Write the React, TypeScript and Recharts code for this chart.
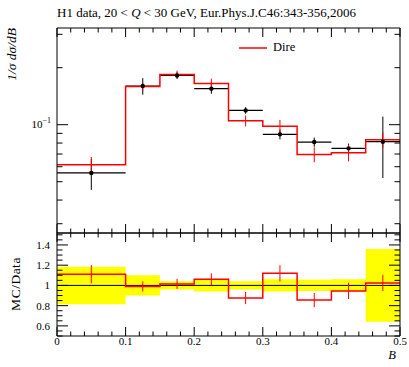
import React from 'react';
import { ComposedChart, Line, Scatter, Area, XAxis, YAxis, ErrorBar, ReferenceLine, Legend } from 'recharts';

// bins in B
const binEdges = [0, 0.1, 0.15, 0.2, 0.25, 0.3, 0.35, 0.4, 0.45, 0.5];
const binCenters = [0.05, 0.125, 0.175, 0.225, 0.275, 0.325, 0.375, 0.425, 0.475];
const binHalfWidths = [0.05, 0.025, 0.025, 0.025, 0.025, 0.025, 0.025, 0.025, 0.025];

// H1 data
const dataValues = [0.0556, 0.16, 0.182, 0.155, 0.119, 0.0889, 0.081, 0.075, 0.0813];
const dataErrors = [0.0103, 0.016, 0.0073, 0.0093, 0.0048, 0.0053, 0.0045, 0.0045, 0.029];

// Dire MC
const mcValues = [0.0615, 0.159, 0.184, 0.165, 0.105, 0.098, 0.0697, 0.0712, 0.0833];
const mcErrors = [0.006, 0.008, 0.009, 0.01, 0.007, 0.008, 0.0063, 0.0072, 0.0077];

// ratio panel
const ratioValues = [1.11, 0.99, 1.015, 1.06, 0.875, 1.12, 0.855, 0.945, 1.025];
const ratioErrors = [0.09, 0.05, 0.05, 0.06, 0.06, 0.08, 0.07, 0.08, 0.08];
const bandHalfWidths = [0.185, 0.1, 0.04, 0.06, 0.04, 0.06, 0.055, 0.06, 0.36];

const xTicks = Array.from({ length: 26 }, (_, i) => Math.round(i * 2) / 100);
const logTicks = [0.03, 0.04, 0.05, 0.06, 0.07, 0.08, 0.09, 0.1, 0.2, 0.3];
const ratioTicks = Array.from({ length: 21 }, (_, i) => Math.round((0.5 + i * 0.05) * 100) / 100);
const xLabels = ['0', '0.1', '0.2', '0.3', '0.4', '0.5'];

const FONT = '"Liberation Serif", serif';
const last = (arr: number[], i: number) => arr[Math.min(i, arr.length - 1)];

const mcStep = binEdges.map((x, i) => ({ x, y: last(mcValues, i) }));
const dataPoints = binCenters.map((x, i) => ({ x, y: dataValues[i], yErr: dataErrors[i], xErr: binHalfWidths[i] }));
const mcPoints = binCenters.map((x, i) => ({ x, y: mcValues[i], yErr: mcErrors[i] }));
const bandStep = binEdges.map((x, i) => ({ x, band: [1 - last(bandHalfWidths, i), 1 + last(bandHalfWidths, i)] }));
const ratioStep = binEdges.map((x, i) => ({ x, y: last(ratioValues, i) }));
const ratioPoints = binCenters.map((x, i) => ({ x, y: ratioValues[i], yErr: ratioErrors[i] }));

const near = (v: number, step: number) => Math.abs(v / step - Math.round(v / step)) < 1e-6;

type Side = 'left' | 'right' | 'top' | 'bottom';

function tick(side: Side, isMajor: (v: number) => boolean, majorLen: number, minorLen: number, label?: (v: number, x: number, y: number) => React.ReactNode) {
  return (props: any) => {
    const { x, y, payload } = props;
    const v = payload.value as number;
    const len = isMajor(v) ? majorLen : minorLen;
    let x2 = x;
    let y2 = y;
    if (side === 'left') x2 = x + len;
    if (side === 'right') x2 = x - len;
    if (side === 'top') y2 = y + len;
    if (side === 'bottom') y2 = y - len;
    return (
      <g>
        <line x1={x} y1={y} x2={x2} y2={y2} stroke="#000" strokeWidth={1} />
        {label ? label(v, x, y) : null}
      </g>
    );
  };
}

const isMajorX = (v: number) => near(v, 0.1);
const isMajorLog = (v: number) => Math.abs(v - 0.1) < 1e-9;
const isMajorRatio = (v: number) => near(v, 0.2) && v > 0.55;

const logLabel = (v: number, x: number, y: number) =>
  isMajorLog(v) ? (
    <text x={x - 6} y={y + 3} textAnchor="end" fontFamily={FONT} fontSize={11} fill="#000">
      10<tspan dy={-5} fontSize={8}>−1</tspan>
    </text>
  ) : null;

const ratioLabel = (v: number, x: number, y: number) =>
  isMajorRatio(v) ? (
    <text x={x - 7} y={y + 4} textAnchor="end" fontFamily={FONT} fontSize={11} fill="#000">
      {String(Math.round(v * 10) / 10)}
    </text>
  ) : null;

const xLabel = (v: number, x: number, y: number) =>
  isMajorX(v) ? (
    <text x={x} y={y + 9} textAnchor="middle" fontFamily={FONT} fontSize={11} fill="#000">
      {xLabels[Math.round(v * 10)]}
    </text>
  ) : null;

const axisCommon = { tickLine: false, tickSize: 0, tickMargin: 0, axisLine: { stroke: '#000' }, interval: 0 as const };

const LegendBox = () => (
  <div style={{ display: 'flex', alignItems: 'center', fontFamily: FONT, fontSize: 12.5, color: '#000' }}>
    <svg width={28} height={6} style={{ marginRight: 6 }}>
      <line x1={0} y1={3} x2={28} y2={3} stroke="#f00" strokeWidth={1.5} />
    </svg>
    <span>Dire</span>
  </div>
);

export default function App() {
  return (
    <div style={{ position: 'absolute', left: 0, top: 0, width: 409, height: 367, background: '#fff' }}>
      <div style={{ position: 'absolute', left: 0, top: 0 }}>
        <ComposedChart width={409} height={234} margin={{ top: 27, right: 8, bottom: 0, left: 56 }}>
          <XAxis dataKey="x" type="number" domain={[0, 0.5]} ticks={xTicks} height={1} {...axisCommon} tick={tick('bottom', isMajorX, 9, 4.5)} />
          <XAxis xAxisId="top" dataKey="x" type="number" orientation="top" domain={[0, 0.5]} ticks={xTicks} height={1} {...axisCommon} tick={tick('top', isMajorX, 9, 4.5)} />
          <YAxis type="number" scale="log" domain={[0.0268, 0.324]} allowDataOverflow ticks={logTicks} width={1} {...axisCommon} tick={tick('left', isMajorLog, 11, 5.5, logLabel)} />
          <YAxis yAxisId="right" orientation="right" type="number" scale="log" domain={[0.0268, 0.324]} allowDataOverflow ticks={logTicks} width={1} {...axisCommon} tick={tick('right', isMajorLog, 11, 5.5)} />
          <Line xAxisId="top" yAxisId="right" data={mcStep} dataKey="y" stroke="none" dot={false} isAnimationActive={false} legendType="none" />
          <Scatter data={dataPoints} dataKey="y" fill="#000" isAnimationActive={false} shape={(p: any) => <circle cx={p.cx} cy={p.cy} r={2.2} fill="#000" />}>
            <ErrorBar dataKey="xErr" direction="x" width={0} stroke="#000" strokeWidth={1.3} />
            <ErrorBar dataKey="yErr" direction="y" width={0} stroke="#000" strokeWidth={1} />
          </Scatter>
          <Line data={mcStep} dataKey="y" type="stepAfter" stroke="#f00" strokeWidth={1.5} dot={false} isAnimationActive={false} />
          <Scatter data={mcPoints} dataKey="y" isAnimationActive={false} shape={() => <g />}>
            <ErrorBar dataKey="yErr" direction="y" width={0} stroke="#f00" strokeWidth={1} />
          </Scatter>
          <Legend content={LegendBox} layout="horizontal" verticalAlign="middle" align="center" wrapperStyle={{ top: 40, left: 239, width: 90 }} />
        </ComposedChart>
      </div>
      <div style={{ position: 'absolute', left: 0, top: 232 }}>
        <ComposedChart width={409} height={134} margin={{ top: 0, right: 8, bottom: 29, left: 56 }}>
          <XAxis dataKey="x" type="number" domain={[0, 0.5]} ticks={xTicks} height={1} {...axisCommon} tick={tick('bottom', isMajorX, 9, 4.5, xLabel)} />
          <XAxis xAxisId="top" dataKey="x" type="number" orientation="top" domain={[0, 0.5]} ticks={xTicks} height={1} {...axisCommon} tick={tick('top', isMajorX, 9, 4.5)} />
          <YAxis type="number" domain={[0.5, 1.518]} allowDataOverflow ticks={ratioTicks} width={1} {...axisCommon} tick={tick('left', isMajorRatio, 11, 5.5, ratioLabel)} />
          <YAxis yAxisId="right" orientation="right" type="number" domain={[0.5, 1.518]} allowDataOverflow ticks={ratioTicks} width={1} {...axisCommon} tick={tick('right', isMajorRatio, 11, 5.5)} />
          <Line xAxisId="top" yAxisId="right" data={ratioStep} dataKey="y" stroke="none" dot={false} isAnimationActive={false} />
          <Area data={bandStep} dataKey="band" type="stepAfter" stroke="none" fill="#ffff00" fillOpacity={1} isAnimationActive={false} />
          <ReferenceLine y={1} stroke="#000" strokeWidth={1} />
          <Line data={ratioStep} dataKey="y" type="stepAfter" stroke="#f00" strokeWidth={1.5} dot={false} isAnimationActive={false} />
          <Scatter data={ratioPoints} dataKey="y" isAnimationActive={false} shape={() => <g />}>
            <ErrorBar dataKey="yErr" direction="y" width={0} stroke="#f00" strokeWidth={1} />
          </Scatter>
        </ComposedChart>
      </div>
      <svg width={409} height={367} style={{ position: 'absolute', left: 0, top: 0, pointerEvents: 'none' }}>
        <text x={57} y={17} fontFamily={FONT} fontSize={13} fill="#000">
          H1 data, 20 &lt; <tspan fontStyle="italic">Q</tspan> &lt; 30 GeV, Eur.Phys.J.C46:343-356,2006
        </text>
        <text transform="translate(16,28) rotate(-90)" textAnchor="end" fontFamily={FONT} fontSize={13.5} fontStyle="italic" fill="#000">
          1/σ dσ/dB
        </text>
        <text transform="translate(20,284) rotate(-90)" textAnchor="middle" fontFamily={FONT} fontSize={13.5} letterSpacing={0.5} fill="#000">
          MC/Data
        </text>
        <text x={396} y={359} textAnchor="end" fontFamily={FONT} fontSize={12.5} fontStyle="italic" fill="#000">
          B
        </text>
      </svg>
    </div>
  );
}
